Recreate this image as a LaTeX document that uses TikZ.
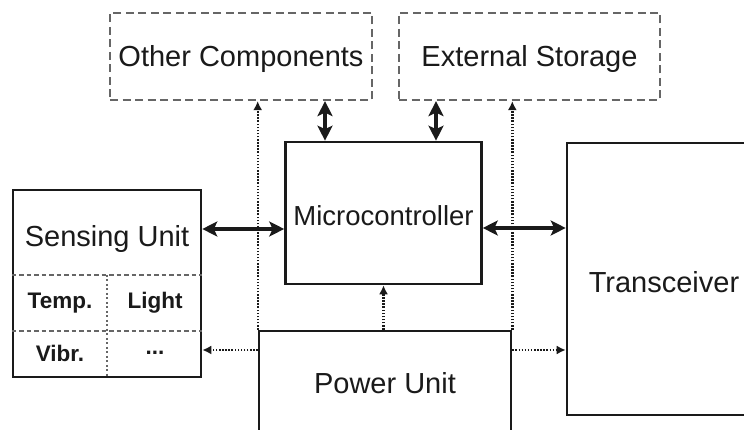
\documentclass[tikz,border=0pt]{standalone}
\usepackage{fontspec}
\setmainfont{Liberation Sans}
\usetikzlibrary{arrows.meta,calc}
\definecolor{ink}{HTML}{1A1A1A}
\definecolor{dashgray}{HTML}{666666}
\tikzset{
  x=1pt,y=1pt,
  box/.style={draw=ink,line width=2.6pt,rectangle,inner sep=0pt,text=ink},
  dbox/.style={draw=dashgray,line width=2.2pt,dash pattern=on 8pt off 4.5pt,rectangle,inner sep=0pt,text=ink},
  bigtxt/.style={font=\fontsize{29}{31}\selectfont,text=ink},
  smalltxt/.style={font=\fontsize{22.5}{24}\selectfont\bfseries,text=ink,inner sep=0pt},
  biarrow/.style={draw=ink,line width=3.2pt,{Stealth[length=15pt,width=15pt,inset=3.5pt]}-{Stealth[length=15pt,width=15pt,inset=3.5pt]}},
  dotarrow/.style={draw=ink,line width=2.4pt,dash pattern=on 1.5pt off 1.6pt,-{Latex[length=9pt,width=9pt]}},
  innerdash/.style={draw=dashgray,line width=2pt,dash pattern=on 4.5pt off 3pt},
  innerdot/.style={draw=dashgray,line width=2pt,dash pattern=on 2pt off 2.5pt},
}
\begin{document}
\begin{tikzpicture}
\useasboundingbox (0,0) rectangle (744,430);
\clip (0,0) rectangle (744,430);
\fill[white] (0,0) rectangle (744,430);
% boxes
\node[dbox,minimum width=262pt,minimum height=87pt] (oc) at (241,373.5) {};
\node[bigtxt] (oct) at (241,370.5) {Other Components};
\node[dbox,minimum width=261pt,minimum height=87pt] (es) at (529.5,373.5) {};
\node[bigtxt] (est) at (529.5,370.5) {External Storage};
\node[box,minimum width=196pt,minimum height=142pt] (mc) at (383.5,217) {};
\node[text=ink,font=\fontsize{27.5}{29}\selectfont] (mct) at (383.5,214) {Microcontroller};
\node[box,minimum width=188pt,minimum height=187pt] (su) at (107,146.5) {};
\node[bigtxt] (sut) at (107,191) {Sensing Unit};
\node[box,minimum width=194pt,minimum height=272pt] (tr) at (664,151) {};
\node[bigtxt] (trt) at (664,148) {Transceiver};
\node[box,minimum width=252pt,minimum height=104pt] (pu) at (385,47) {};
\node[bigtxt] (put) at (385,47) {Power Unit};
% sensing unit grid
\coordinate (g1) at (0,155);
\coordinate (g2) at (0,99);
\coordinate (gx) at (107,0);
\draw[innerdash] (su.west |- g1) -- (su.east |- g1);
\draw[innerdash] (su.west |- g2) -- (su.east |- g2);
\draw[innerdot] (gx |- g1) -- (gx |- su.south);
\node[smalltxt] (temp) at (60,127) {Temp.};
\node[smalltxt] (light) at (155,127) {Light};
\node[smalltxt] (vibr) at (60,77) {Vibr.};
\node[smalltxt] (dots) at (155,77) {...};
% data arrows
\coordinate (ya) at (0,201);
\coordinate (yb) at (0,202);
\coordinate (xa) at (325,0);
\coordinate (xb) at (436,0);
\draw[biarrow] (su.east |- ya) -- (mc.west |- ya);
\draw[biarrow] (mc.east |- yb) -- (tr.west |- yb);
\draw[biarrow] (mc.north -| xa) -- (oc.south -| xa);
\draw[biarrow] (mc.north -| xb) -- (es.south -| xb);
% power arrows
\coordinate (yp) at (0,80);
\draw[dotarrow] (pu.north -| mc.south) -- (mc.south);
\draw[dotarrow] (pu.north west) -- (pu.north west |- oc.south);
\draw[dotarrow] (pu.north east) -- (pu.north east |- es.south);
\draw[dotarrow] (pu.west |- yp) -- (su.east |- yp);
\draw[dotarrow] (pu.east |- yp) -- (tr.west |- yp);
\end{tikzpicture}
\end{document}
